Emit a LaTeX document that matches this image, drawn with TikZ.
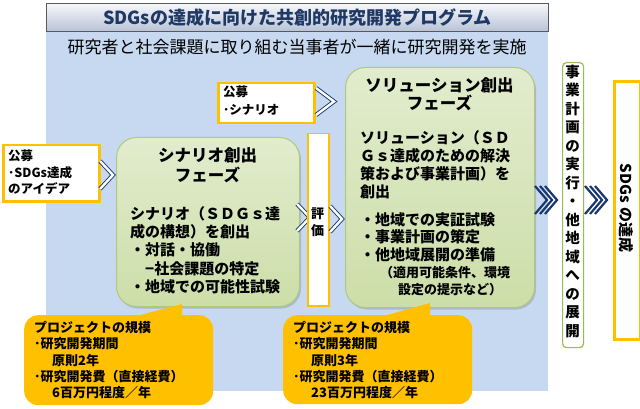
\documentclass[tikz,border=0pt]{standalone}
\usepackage{fontspec}
\setmainfont{Noto Sans CJK JP}
\usetikzlibrary{shadows}
\definecolor{panel}{RGB}{198,217,241}
\definecolor{navy}{RGB}{31,56,100}
\definecolor{chevblue}{RGB}{23,55,110}
\definecolor{gtop}{RGB}{226,236,206}
\definecolor{gbot}{RGB}{204,222,168}
\definecolor{gline}{RGB}{175,200,125}
\definecolor{orng}{RGB}{255,192,0}
\definecolor{dgreen}{RGB}{155,187,89}
\definecolor{tbtop}{RGB}{246,247,250}
\definecolor{tbbot}{RGB}{184,195,215}
\begin{document}
\begin{tikzpicture}[x=1pt,y=-1pt,
  jp/.style={inner sep=0pt, align=left},
  obox/.style={draw=orng, line width=2.5pt, fill=white, inner sep=0pt, anchor=north west},
  greenbox/.style={draw=gline, line width=1pt, rounded corners=20pt, top color=gtop, bottom color=gbot, inner sep=0pt, anchor=north west, drop shadow={shadow xshift=1.5pt, shadow yshift=-2pt, opacity=0.35}},
  chev/.style={draw=chevblue, line width=0.9pt, double=white, double distance=2.4pt, line join=miter},
  tchev/.style={draw=chevblue, line width=2.2pt, line join=miter},
  callout/.style={fill=orng, rounded corners=14pt, inner sep=0pt, anchor=north west},
]
\useasboundingbox (0,0) rectangle (640,409);
% panel and title bar
\fill[panel] (46,31) rectangle (548,391);
\node[draw=gray!70!black, line width=0.8pt, top color=tbtop, bottom color=tbbot, minimum width=502pt, minimum height=28pt, anchor=north west, inner sep=0pt] (tbar) at (46,3) {};
\node[font=\bfseries\fontsize{18}{20}\selectfont, text=navy, inner sep=0pt] (title) at (tbar.center) {SDGsの達成に向けた共創的研究開発プログラム};
\node[font=\fontsize{17}{20}\selectfont, inner sep=0pt] (sub) at (297,47) {研究者と社会課題に取り組む当事者が一緒に研究開発を実施};

% left call box
\node[obox, minimum width=96pt, minimum height=56pt] (lbox) at (2,144) {};
\node[jp, anchor=north west, font=\bfseries\fontsize{12.5}{16.5}\selectfont] (lboxt) at (8,150) {公募\\･SDGs達成\\のアイデア};
\draw[chev] (100,161) -- (113,175) -- (100,189);

% scenario phase
\node[greenbox, minimum width=183pt, minimum height=169pt] (scen) at (116,137) {};
\node[font=\bfseries\fontsize{16.5}{20}\selectfont, align=center, inner sep=0pt] (scent) at (207.5,165) {シナリオ創出\\フェーズ};
\node[jp, anchor=north west, font=\bfseries\fontsize{15}{18.3}\selectfont] (scenb) at (130,206) {シナリオ（ＳＤＧｓ達\\成の構想）を創出\\・対話・協働\\\hspace*{15pt}−社会課題の特定\\・地域での可能性試験};

% evaluation
\draw[chev] (297,204) -- (310,217.5) -- (297,231);
\node[draw=orng, line width=1.5pt, fill=white, minimum width=21pt, minimum height=172pt, anchor=north west, inner sep=0pt] (eval) at (307,133) {};
\node[font=\bfseries\fontsize{13}{17}\selectfont, align=center, inner sep=0pt] (evalt) at (317.5,222) {評\\価};
\draw[chev] (330,206) -- (342,219) -- (330,232);

% top call box
\node[obox, minimum width=96pt, minimum height=40pt] (tbox) at (217,82) {};
\node[jp, anchor=north west, font=\bfseries\fontsize{12.5}{18}\selectfont] (tboxt) at (223,86) {公募\\･シナリオ};
\draw[chev] (316,88) -- (334,101.5) -- (316,115);

% solution phase
\node[greenbox, minimum width=189pt, minimum height=240pt] (sol) at (345,67) {};
\node[font=\bfseries\fontsize{16.5}{18.5}\selectfont, align=center, inner sep=0pt] (solt) at (439.5,94) {ソリューション創出\\フェーズ};
\node[jp, anchor=north west, font=\bfseries\fontsize{15}{18}\selectfont] (solb) at (360,130) {ソリューション（ＳＤ\\Ｇｓ達成のための解決\\策および事業計画）を\\創出};
\node[jp, anchor=north west, font=\bfseries\fontsize{15}{17.5}\selectfont] (solc) at (360,212) {・地域での実証試験\\・事業計画の策定\\・他地域展開の準備};
\node[jp, anchor=north west, font=\bfseries\fontsize{13}{17}\selectfont] (sold) at (380,266) {（適用可能条件、環境\\\hspace*{18pt}設定の提示など）};

% business column
\draw[tchev] (535,186) -- (547,200) -- (535,214);
\draw[tchev] (540,186) -- (552,200) -- (540,214);
\draw[tchev] (545,186) -- (557,200) -- (545,214);
\node[draw=dgreen, line width=1.2pt, fill=white, rounded corners=4pt, minimum width=21pt, minimum height=285pt, anchor=north west, inner sep=0pt] (biz) at (562,62) {};
\node[font=\bfseries\fontsize{14.5}{18.5}\selectfont, align=center, inner sep=0pt] (bizt) at (572.5,201.5) {事\\業\\計\\画\\の\\実\\行\\・\\他\\地\\域\\へ\\の\\展\\開};
\draw[tchev] (585,186) -- (597,200) -- (585,214);
\draw[tchev] (590,186) -- (602,200) -- (590,214);
\draw[tchev] (595,186) -- (607,200) -- (595,214);

% SDGs goal
\node[obox, line width=3pt, minimum width=26pt, minimum height=258pt] (goal) at (613,80) {};
\node[font=\bfseries\fontsize{15}{17}\selectfont, rotate=-90, inner sep=0pt] (goalt) at (626,208) {SDGs\hspace{4pt}の達成};

% callouts
\node[callout, minimum width=189pt, minimum height=90pt] (lcall) at (24,315) {};
\fill[orng] (133,317) -- (182,304) -- (182,317) -- cycle;
\node[jp, anchor=north west, font=\bfseries\fontsize{13}{16.3}\selectfont] (lcallt) at (34,321) {プロジェクトの規模\\･研究開発期間\\\hspace*{18pt}原則2年\\･研究開発費（直接経費）\\\hspace*{18pt}6百万円程度／年};
\node[callout, minimum width=189pt, minimum height=89pt] (rcall) at (283,315) {};
\fill[orng] (380,317) -- (430,303) -- (430,317) -- cycle;
\node[jp, anchor=north west, font=\bfseries\fontsize{13}{16.3}\selectfont] (rcallt) at (293,321) {プロジェクトの規模\\･研究開発期間\\\hspace*{18pt}原則3年\\･研究開発費（直接経費）\\\hspace*{18pt}23百万円程度／年};
\end{tikzpicture}
\end{document}
